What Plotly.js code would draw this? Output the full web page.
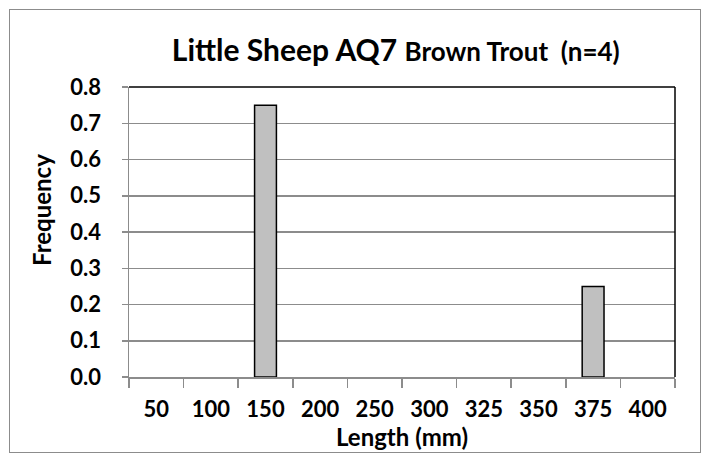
<!DOCTYPE html>
<html><head><meta charset="utf-8">
<script src="https://cdn.plot.ly/plotly-3.0.1.min.js"></script>
<style>
html,body{margin:0;padding:0;background:#fff;}
#wrap{position:relative;width:708px;height:456px;}
#chart{width:708px;height:456px;}
#frame{position:absolute;left:9px;top:9px;width:690px;height:442px;border:1.5px solid #8c8c8c;pointer-events:none;}
</style></head>
<body><div id="wrap"><div id="chart"></div><div id="frame"></div></div>
<script>
const categories = ["50","100","150","200","250","300","325","350","375","400"];
const frequency = [0, 0, 0.75, 0, 0, 0, 0, 0, 0.25, 0];
const yTicks = [0,0.1,0.2,0.3,0.4,0.5,0.6,0.7,0.8];

const FONT = "Lato, 'Open Sans', sans-serif";
const trace = {
  type: 'bar', x: categories, y: frequency,
  marker: {color: '#c0c0c0', line: {color: '#000', width: frequency.map(v => v > 0 ? 1.5 : 0)}},
  hoverinfo: 'x+y'
};
const layout = {
  width: 708, height: 456,
  margin: {l: 129, r: 33, t: 87, b: 79},
  paper_bgcolor: '#fff', plot_bgcolor: '#fff',
  bargap: 0.6,
  showlegend: false,
  title: {
    text: "<b>Little Sheep AQ7 <span style='font-size:26px'>Brown Trout  (n=4)</span></b>",
    font: {family: FONT, size: 30, color: '#000'},
    x: 0.559, xanchor: 'center', y: 0.89, yanchor: 'middle'
  },
  xaxis: {
    type: 'category',
    tickson: 'boundaries',
    ticks: 'outside', ticklen: 9, tickcolor: '#8c8c8c', tickwidth: 1.5,
    showline: true, linecolor: '#8c8c8c', linewidth: 1.5,
    showgrid: false,
    ticklabelstandoff: 12,
    tickfont: {family: FONT, size: 22, color: '#000', weight: 'bold'},
    title: {text: '<b>Length (mm)</b>', font: {family: FONT, size: 24, color: '#000'}, standoff: 0}
  },
  yaxis: {
    range: [0, 0.8], tickvals: yTicks, tickformat: '.1f',
    ticks: 'outside', ticklen: 6, tickcolor: '#8c8c8c', tickwidth: 1.5,
    showline: true, linecolor: '#8c8c8c', linewidth: 1.5,
    showgrid: true, gridcolor: '#8c8c8c', gridwidth: 1.5,
    zeroline: false,
    ticklabelstandoff: 16,
    tickfont: {family: FONT, size: 22, color: '#000', weight: 'bold'}
  },
  annotations: [{
    text: '<b>Frequency</b>', textangle: -90, showarrow: false,
    xref: 'paper', yref: 'paper', x: 0, y: 0.576, xanchor: 'center', yanchor: 'middle',
    xshift: -87, font: {family: FONT, size: 24, color: '#000'}
  }],
  shapes: [
    {type: 'line', xref: 'paper', yref: 'paper', x0: 0, x1: 1, y0: 1, y1: 1, line: {color: '#000', width: 1.5}},
    {type: 'line', xref: 'paper', yref: 'paper', x0: 1, x1: 1, y0: 0, y1: 1, line: {color: '#000', width: 1.5}}
  ]
};
Plotly.newPlot('chart', [trace], layout, {displayModeBar: false, staticPlot: true});
</script></body></html>
